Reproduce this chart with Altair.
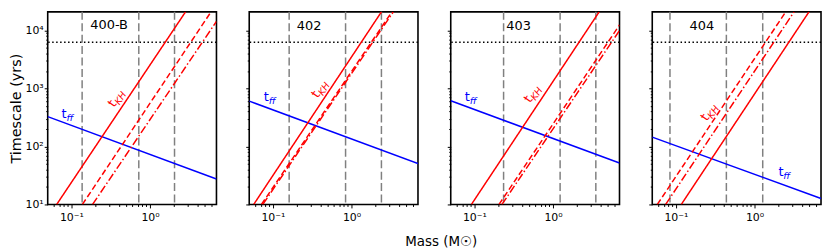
import altair as alt
import pandas as pd

# ---------------- data ----------------
panels = ["400-B", "402", "403", "404"]
x_domain = [0.05, 7.0]
y_domain = [10, 21000]
dotted_time = 6300

# vertical dashed grey markers (mass)
vlines = [[0.137, 0.72, 2.05], [0.161, 0.84, 2.40], [0.235, 1.23, 3.50], [0.084, 0.438, 1.27]]

# free-fall time line endpoints
tff_mass = [[0.05, 7.0], [0.05, 7.0], [0.05, 7.0], [0.05, 7.0]]
tff_time = [[327, 27.5], [607, 50.6], [614, 51.8], [145, 12.7]]

# Kelvin-Helmholtz lines endpoints
kh_solid_mass = [[0.065, 2.83], [0.057, 2.40], [0.0916, 3.86], [0.117, 4.92]]
kh_solid_time = [[10, 21000], [10, 21000], [10, 21000], [10, 21000]]
kh_dashed_mass = [[0.138, 5.97], [0.0715, 3.26], [0.2055, 7.0], [0.058, 2.49]]
kh_dashed_time = [[10, 21000], [10, 21000], [10, 12450], [10, 21000]]
kh_dashdot_mass = [[0.186, 7.0], [0.0745, 3.40], [0.224, 7.0], [0.074, 3.18]]
kh_dashdot_time = [[10, 14400], [10, 21000], [10, 10000], [10, 21000]]

# label anchors (mass, time)
title_pos = [[0.174, 12300], [0.201, 12200], [0.254, 12200], [0.149, 12000]]
tff_label_pos = [[0.075, 313], [0.0764, 604], [0.0754, 611], [2.01, 30.5]]
tkh_label_pos = [[0.35, 463], [0.371, 668], [0.512, 550], [0.249, 267]]

x_ticks_major = [0.1, 1]
x_tick_labels = ["10⁻¹", "10⁰"]
x_ticks_minor = [0.06, 0.07, 0.08, 0.09, 0.2, 0.3, 0.4, 0.5, 0.6, 0.7, 0.8, 0.9,
                 2, 3, 4, 5, 6]
y_ticks_major = [10, 100, 1000, 10000]
y_tick_labels = ["10¹", "10²", "10³", "10⁴"]
y_ticks_minor = [20, 30, 40, 50, 60, 70, 80, 90, 200, 300, 400, 500, 600, 700, 800, 900,
                 2000, 3000, 4000, 5000, 6000, 7000, 8000, 9000]

FONT = "DejaVu Sans"


def label_expr(vals, labels):
    expr = "''"
    for v, l in reversed(list(zip(vals, labels))):
        expr = f"datum.value == {v} ? '{l}' : ({expr})"
    return expr


def major_test(vals):
    return " || ".join(f"datum.value == {v}" for v in vals)


def make_axis(major, minor, labels, show_labels, pad, title=None):
    kw = dict(
        values=sorted(major + minor),
        labelExpr=label_expr(major, labels),
        tickSize={"condition": {"test": major_test(major), "value": 3.5}, "value": 2},
        tickColor="black",
        tickWidth=1,
        domain=False,
        grid=False,
        labels=show_labels,
        labelFont=FONT,
        labelFontSize=11,
        labelColor="black",
        labelPadding=pad,
        labelOverlap=False,
        labelFlush=False,
        labelBound=False,
    )
    if title:
        kw.update(title=title, titleFont=FONT, titleFontSize=14.5, titleFontWeight="normal",
                  titleColor="black", titlePadding=1)
    else:
        kw.update(title=None)
    return alt.Axis(**kw)


charts = []
for i, name in enumerate(panels):
    xenc = alt.X("m:Q", scale=alt.Scale(type="log", domain=x_domain, nice=False),
                 axis=make_axis(x_ticks_major, x_ticks_minor, x_tick_labels, True, 3.5))
    yenc = alt.Y("t:Q", scale=alt.Scale(type="log", domain=y_domain, nice=False),
                 axis=make_axis(y_ticks_major, y_ticks_minor, y_tick_labels, i == 0, 1,
                                "Timescale (yrs)" if i == 0 else None))

    v_df = pd.DataFrame({"m": vlines[i]})
    h_df = pd.DataFrame({"t": [dotted_time]})
    tff_df = pd.DataFrame({"m": tff_mass[i], "t": tff_time[i]})
    kh_df = pd.DataFrame({
        "m": kh_solid_mass[i] + kh_dashed_mass[i] + kh_dashdot_mass[i],
        "t": kh_solid_time[i] + kh_dashed_time[i] + kh_dashdot_time[i],
        "style": ["solid"] * 2 + ["dashed"] * 2 + ["dashdot"] * 2,
    })
    title_df = pd.DataFrame({"m": [title_pos[i][0]], "t": [title_pos[i][1]], "label": [name]})
    tff_lab = pd.DataFrame({"m": [tff_label_pos[i][0]], "t": [tff_label_pos[i][1]]})
    tkh_lab = pd.DataFrame({"m": [tkh_label_pos[i][0]], "t": [tkh_label_pos[i][1]]})

    vrule = alt.Chart(v_df).mark_rule(color="#808080", strokeWidth=1.5, strokeDash=[8, 3.5]).encode(x=xenc)
    hrule = alt.Chart(h_df).mark_rule(color="black", strokeWidth=1.5, strokeDash=[1.5, 2.5]).encode(y=yenc)
    tff_line = alt.Chart(tff_df).mark_line(color="#0000ff", strokeWidth=1.5, clip=True).encode(x=xenc, y=yenc)
    kh_lines = alt.Chart(kh_df).mark_line(color="#ff0000", strokeWidth=1.5, clip=True).encode(
        x=xenc, y=yenc,
        strokeDash=alt.StrokeDash("style:N", legend=None,
                                  scale=alt.Scale(domain=["solid", "dashed", "dashdot"],
                                                  range=[[1, 0], [6, 3], [8, 2.5, 1.5, 2.5]])),
        detail="style:N",
    )
    title_txt = alt.Chart(title_df).mark_text(align="left", baseline="middle", font=FONT,
                                              fontSize=13, color="black").encode(x=xenc, y=yenc, text="label:N")
    tff_t = alt.Chart(tff_lab).mark_text(align="left", baseline="alphabetic", font=FONT,
                                         fontSize=13, color="#0000ff").encode(x=xenc, y=yenc, text=alt.value("t"))
    tff_s = alt.Chart(tff_lab).mark_text(align="left", baseline="alphabetic", font=FONT, fontStyle="italic",
                                         fontSize=9.5, color="#0000ff", dx=5, dy=3).encode(x=xenc, y=yenc, text=alt.value("ff"))
    tkh_t = alt.Chart(tkh_lab).mark_text(align="left", baseline="alphabetic", font=FONT, angle=304,
                                         fontSize=13, color="#ff0000").encode(x=xenc, y=yenc, text=alt.value("t"))
    tkh_s = alt.Chart(tkh_lab).mark_text(align="left", baseline="alphabetic", font=FONT, fontStyle="italic", angle=304,
                                         fontSize=9.5, color="#ff0000", dx=5, dy=3).encode(x=xenc, y=yenc, text=alt.value("KH"))

    layer = alt.layer(vrule, hrule, tff_line, kh_lines, title_txt, tff_t, tff_s, tkh_t, tkh_s).properties(
        width=170, height=194)
    charts.append(layer)

chart = alt.hconcat(
    *charts, spacing=33, bounds="flush",
    title=alt.TitleParams("Mass (M☉)", orient="bottom", anchor="middle", font=FONT, fontSize=13.5,
                          fontWeight="normal", color="black", offset=12, dx=26),
).properties(
    padding={"left": 0, "top": 1, "right": 0, "bottom": 0}
).configure_view(stroke="black", strokeWidth=1.6)

chart.save("out.html", embed_options={"renderer": "svg", "actions": False})
